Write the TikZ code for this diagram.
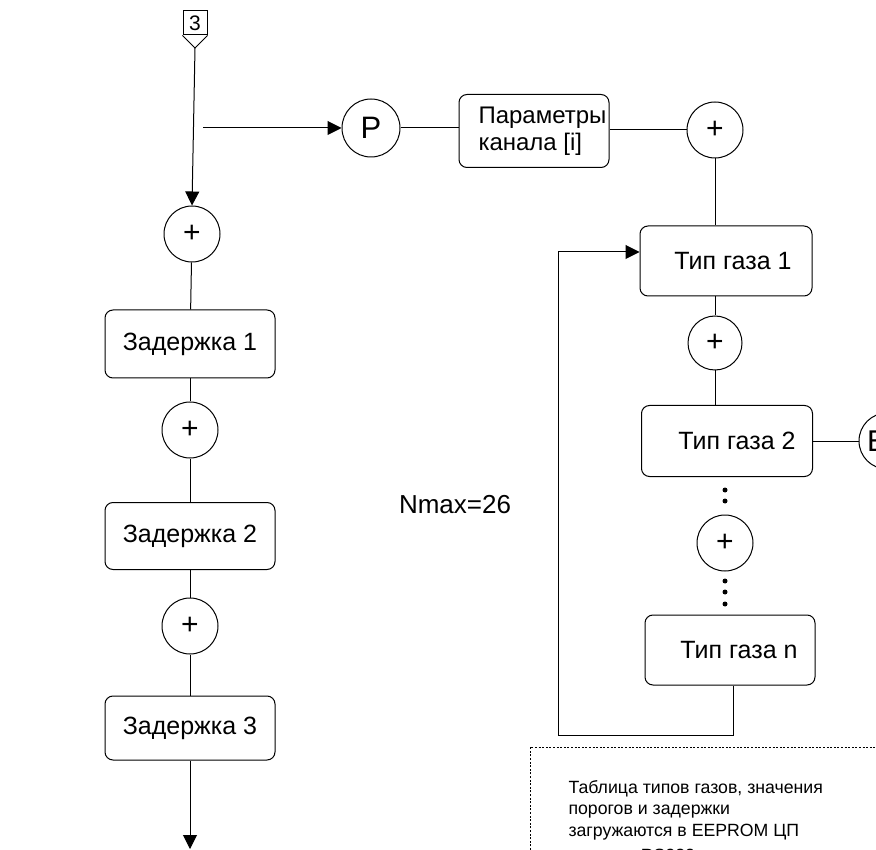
\documentclass[tikz,border=0pt]{standalone}
\usepackage{fontspec}
\setmainfont{Liberation Sans}
\usetikzlibrary{arrows.meta}
\begin{document}
\begin{tikzpicture}[x=1pt,y=-1pt,line width=1pt,
  box/.style={draw,rounded corners=8pt,inner sep=0pt,font=\fontsize{25}{29}\selectfont},
  sumc/.style={draw,circle,minimum size=56pt,inner sep=0pt,font=\fontsize{30}{32}\selectfont},
  arr/.style={-{Triangle[length=14pt,width=14pt]}},
  dotline/.style={line width=0.9pt,dash pattern=on 2pt off 1.6pt},
  dotc/.style={circle,fill,inner sep=0pt,minimum size=5pt}]
\useasboundingbox (0,0) rectangle (876,850);
% off-page connector
\node[draw,minimum width=24pt,minimum height=24pt,inner sep=0pt,font=\fontsize{21}{22}\selectfont] (k3) at (195,23) {3};
\draw (k3.south west) -- (195,48) -- (k3.south east);
\coordinate (k3tip) at (195,48);
% left column
\node[sumc] (s1) at (192,234) {+};
\node[box,minimum width=170pt,minimum height=68pt] (z1) at (190,344) {Задержка 1};
\node[sumc] (s2) at (190,430) {+};
\node[box,minimum width=170pt,minimum height=67pt] (z2) at (190,536) {Задержка 2};
\node[sumc] (s3) at (190,626) {+};
\node[box,minimum width=170pt,minimum height=64pt] (z3) at (190,728) {Задержка 3};
\coordinate (outl) at (190,849);
\draw[arr] (k3tip) -- (s1.north);
\draw (s1) -- (z1);
\draw (z1) -- (s2);
\draw (s2) -- (z2);
\draw (z2) -- (s3);
\draw (s3) -- (z3);
\draw[arr] (z3) -- (outl);
% top branch
\coordinate (br) at (203,128);
\node[sumc,minimum size=58pt,font=\fontsize{31}{33}\selectfont] (p) at (371,128) {P};
\draw[arr] (br) -- (p.west);
\node[box,minimum width=150pt,minimum height=73pt,align=left,font=\fontsize{24}{27}\selectfont] (par) at (534,131) {\hspace*{17pt}Параметры\\\hspace*{17pt}канала [i]};
\draw (p.east) -- (par.west|-p.east);
\node[sumc] (c1) at (715,130) {+};
\draw (par.east|-c1) -- (c1.west);
% right column
\node[box,minimum width=172pt,minimum height=70pt] (t1) at (726,261) {\hspace*{14pt}Тип газа 1};
\draw (c1.south) -- (c1.south|-t1.north);
\node[sumc,minimum size=54pt] (c2) at (715,343) {+};
\draw (c2.north|-t1.south) -- (c2.north);
\node[box,minimum width=171pt,minimum height=71pt] (t2) at (727,441) {\hspace*{20pt}Тип газа 2};
\draw (c2.south) -- (c2.south|-t2.north);
\node[sumc,minimum size=56pt,font=\fontsize{30}{32}\selectfont] (e) at (887,441) {E\hspace*{20pt}};
\draw (t2.east) -- (e.west);
\node[dotc] (d1) at (725,490) {};
\node[dotc] (d2) at (725,501) {};
\node[sumc] (c3) at (725,543) {+};
\node[dotc] (d3) at (725,581) {};
\node[dotc] (d4) at (725,592) {};
\node[dotc] (d5) at (725,604) {};
\node[box,minimum width=170pt,minimum height=70pt] (tn) at (730,650) {\hspace*{18pt}Тип газа n};
\coordinate (l1) at (733,735);
\coordinate (l2) at (558,735);
\coordinate (l3) at (558,252);
\draw[arr] (tn.south-|l1) -- (l1) -- (l2) -- (l3) -- (t1.west|-l3);
\node[font=\fontsize{26}{28}\selectfont] (nmax) at (455,505) {Nmax=26};
% note
\coordinate (n1) at (530,850);
\coordinate (n2) at (530,747);
\coordinate (n3) at (876,747);
\draw[dotline] (n1) -- (n2) -- (n3);
\node[anchor=north west,align=left,inner sep=0pt,font=\fontsize{17.7}{21.4}\selectfont] (note) at (568,780) {Таблица типов газов, значения\\порогов и задержки\\загружаются в EEPROM ЦП\\[4pt]\hspace*{48pt}по RS232};
\end{tikzpicture}
\end{document}
